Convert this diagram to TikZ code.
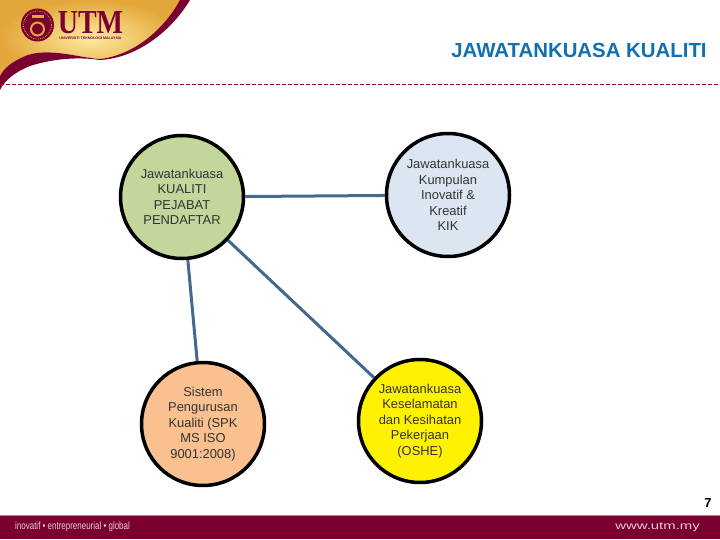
\documentclass[tikz,border=0pt]{standalone}
\usepackage{fontspec}
\setmainfont{Liberation Sans}
\newfontfamily\utmserif{Liberation Serif}
\definecolor{utmmaroon}{HTML}{7A0030}
\definecolor{linkblue}{HTML}{44688F}
\definecolor{titleblue}{HTML}{1070B0}
\definecolor{goldlight}{HTML}{FDEB9E}
\definecolor{golddark}{HTML}{E3A63A}
\definecolor{footgrey}{HTML}{E8CCD6}

\begin{document}
\begin{tikzpicture}[%
  x=1pt, y=-1pt,
  comm/.style={circle, draw=black, line width=3.5pt, minimum size=123pt, inner sep=0pt,
    align=center, font=\fontsize{12.9}{15.5}\selectfont, text=black!80},
  link/.style={draw=linkblue, line width=3pt},
  foot/.style={inner sep=0pt, text=footgrey, font=\fontsize{10.5}{11}\selectfont},
  ]
  \useasboundingbox (0,0) rectangle (720,540);
  % banner
  \shade[inner color=goldlight, outer color=golddark]
    (0,0) -- (181,0) .. controls (165,28) and (135,55) .. (100,59)
    .. controls (80,58) and (45,46) .. (23,57) .. controls (12,62) and (4,68) .. (0,76) -- cycle;
  \fill[utmmaroon] (180,0) -- (190,0) .. controls (172,30) and (138,58) .. (100,60)
    .. controls (80,57) and (55,58) .. (30,66) .. controls (15,72) and (5,80) .. (0,90)
    -- (0,76) .. controls (4,68) and (12,62) .. (23,57) .. controls (45,46) and (80,58) .. (100,59)
    .. controls (135,55) and (165,28) .. (180,0) -- cycle;
  % logo
  \node[circle, fill=utmmaroon, minimum size=33pt, inner sep=0pt] (logo) at (37.5,25) {};
  \node[circle, draw=golddark, densely dotted, line width=0.8pt, minimum size=28pt, inner sep=0pt] (logoring) at (37.5,25) {};
  \node[circle, draw=golddark, line width=2pt, minimum size=13pt, inner sep=0pt] (logoin) at (37.5,29) {};
  \node[rectangle, fill=golddark, minimum width=12pt, minimum height=3pt, inner sep=0pt] (logobar) at (37.5,17) {};
  \node[inner sep=0pt, text=utmmaroon, font=\fontsize{28}{28}\selectfont\bfseries\utmserif] (utm) at (90.5,22.5) {\scalebox{1}[1.2]{UTM}};
  \node[inner sep=0pt, text=utmmaroon, font=\fontsize{3.6}{4}\selectfont\bfseries] (univ) at (90.5,38.5) {UNIVERSITI TEKNOLOGI MALAYSIA};
  % title and rule
  \node[inner sep=0pt, text=titleblue, font=\fontsize{20.4}{20}\selectfont\bfseries] (title) at (579,50) {JAWATANKUASA KUALITI};
  \coordinate (ruleL) at (0,84);
  \coordinate (ruleR) at (720,84);
  \draw[utmmaroon!70!red, line width=0.8pt, dash pattern=on 4pt off 2pt] (ruleL) -- (ruleR);
  % committees
  \node[comm, fill={rgb,255:red,195;green,214;blue,155}] (kualiti) at (182,197) {Jawatankuasa\\KUALITI\\PEJABAT\\PENDAFTAR};
  \node[comm, fill={rgb,255:red,220;green,230;blue,242}, node distance=266pt, right of=kualiti, yshift=2pt] (kik) {Jawatankuasa\\Kumpulan\\Inovatif \&\\Kreatif\\KIK};
  \node[comm, fill={rgb,255:red,250;green,192;blue,144}, node distance=227pt, below of=kualiti, xshift=21pt] (sistem) {Sistem\\Pengurusan\\Kualiti (SPK\\MS ISO\\9001:2008)};
  \node[comm, fill=yellow, node distance=226pt, below of=kik, xshift=-28pt] (oshe) {Jawatankuasa\\Keselamatan\\dan Kesihatan\\Pekerjaan\\(OSHE)};
  \draw[link] (kualiti) -- (kik);
  \draw[link] (kualiti) -- (sistem);
  \draw[link] (kualiti) -- (oshe);
  % footer
  \fill[utmmaroon] (0,515) rectangle (720,539);
  \draw[utmmaroon!50, line width=0.7pt] (0,515) -- (720,515);
  \node[foot, anchor=west] (motto) at (15,527) {\scalebox{.76}[1]{inovatif \textbullet{} entrepreneurial \textbullet{} global}};
  \node[foot, anchor=east] (web) at (700,527) {\scalebox{1.42}[1]{www.utm.my}};
  \node[inner sep=0pt, font=\fontsize{13}{13}\selectfont\bfseries] (page) at (708,503.5) {7};
\end{tikzpicture}
\end{document}
